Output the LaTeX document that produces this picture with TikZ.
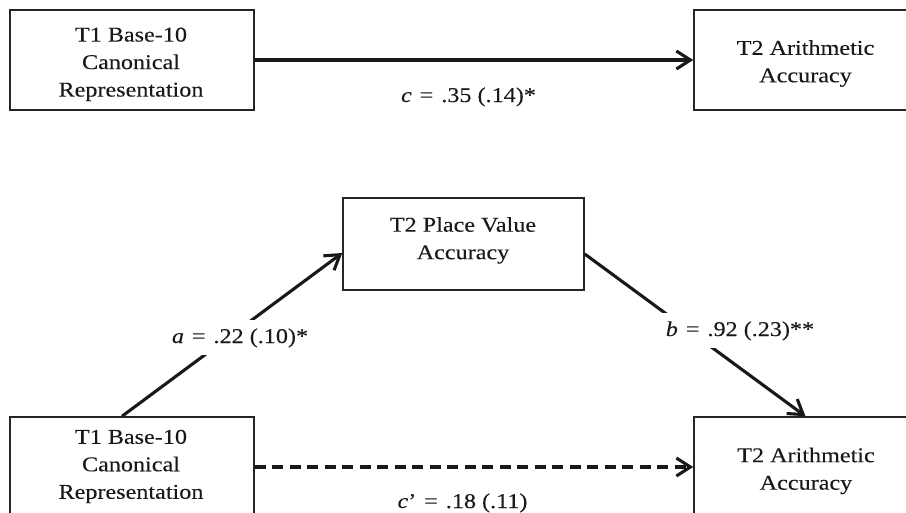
\documentclass[tikz,border=0pt]{standalone}
\usepackage{fontspec}
\setmainfont[FakeStretch=1.15,FakeBold=0.12]{Liberation Serif}
\usetikzlibrary{arrows.meta}
\newcommand\eqsp{\hspace{0.38em}}
\begin{document}
\begin{tikzpicture}[x=1pt,y=-1pt,
  box/.style={draw=black!85, line width=1.5pt, inner sep=0pt},
  txt/.style={align=center, inner sep=0pt, font=\fontsize{21}{27.5}\selectfont, text=black!90},
  lab/.style={inner xsep=8pt, inner ysep=8pt, fill=white, anchor=base, font=\fontsize{21}{27.5}\selectfont, text=black!90},
  arr/.style={line width=3.1pt, draw=black!90, -{Straight Barb[length=14pt,width=18pt]}},
]
\clip (0,0) rectangle (906,512);
% boxes
\node[box, minimum width=244pt, minimum height=100pt] (tl) at (132,60) {};
\node[box, minimum width=223pt, minimum height=100pt] (tr) at (805.5,60) {};
\node[box, minimum width=241pt, minimum height=92pt] (mid) at (463.5,244) {};
\node[box, minimum width=244pt, minimum height=100pt] (bl) at (132,467) {};
\node[box, minimum width=223pt, minimum height=100pt] (br) at (805.5,467) {};
% box texts
\node[txt] (tlt) at (131,64.3) {T1 Base-10\\Canonical\\Representation};
\node[txt] (trt) at (805.5,63.5) {T2 Arithmetic\\Accuracy};
\node[txt] (midt) at (463,240.4) {T2 Place Value\\Accuracy};
\node[txt] (blt) at (131,466.5) {T1 Base-10\\Canonical\\Representation};
\node[txt] (brt) at (806,470.9) {T2 Arithmetic\\Accuracy};
% connectors
\draw[arr] (tl.east) -- (tr.west);
\draw[arr] ([xshift=-10pt]bl.north) -- ([yshift=-9pt]mid.west);
\draw[arr] ([yshift=-10pt]mid.east) -- (br.north);
\draw[arr, dash pattern=on 11pt off 6.5pt] (bl.east) -- (br.west);
% labels
\node[lab] (lc) at (468.5,102) {\textit{c}\eqsp=\eqsp.35 (.14)*};
\node[lab] (la) at (240,343) {\textit{a}\eqsp=\eqsp.22 (.10)*};
\node[lab] (lb) at (740,336) {\textit{b}\eqsp=\eqsp.92 (.23)**};
\node[lab] (lcp) at (462.5,508) {\textit{c}’\eqsp=\eqsp.18 (.11)};
\end{tikzpicture}
\end{document}
